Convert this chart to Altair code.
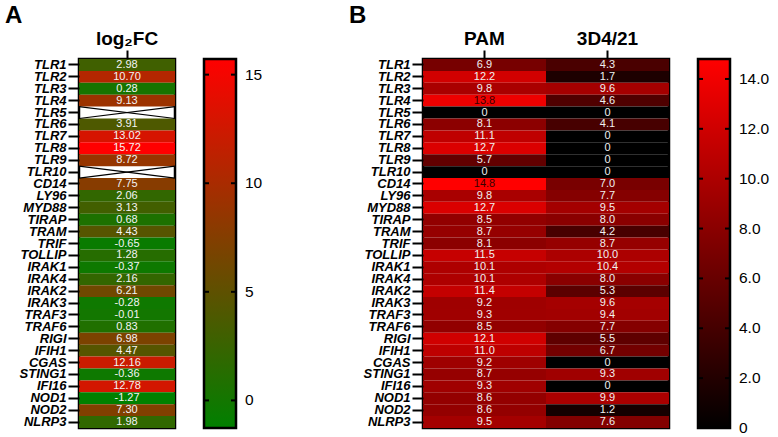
import altair as alt
import pandas as pd

# Genes, top to bottom
genes = ["TLR1", "TLR2", "TLR3", "TLR4", "TLR5", "TLR6", "TLR7", "TLR8", "TLR9", "TLR10",
         "CD14", "LY96", "MYD88", "TIRAP", "TRAM", "TRIF", "TOLLIP", "IRAK1", "IRAK4", "IRAK2",
         "IRAK3", "TRAF3", "TRAF6", "RIGI", "IFIH1", "CGAS", "STING1", "IFI16", "NOD1", "NOD2",
         "NLRP3"]

# Panel A: log2 fold change (None = not detected)
log2fc = [2.98, 10.70, 0.28, 9.13, None, 3.91, 13.02, 15.72, 8.72, None,
          7.75, 2.06, 3.13, 0.68, 4.43, -0.65, 1.28, -0.37, 2.16, 6.21,
          -0.28, -0.01, 0.83, 6.98, 4.47, 12.16, -0.36, 12.78, -1.27, 7.30,
          1.98]

# Panel B: expression per cell type
cell_types = ["PAM", "3D4/21"]
pam = [6.9, 12.2, 9.8, 13.8, 0, 8.1, 11.1, 12.7, 5.7, 0,
       14.8, 9.8, 12.7, 8.5, 8.7, 8.1, 11.5, 10.1, 10.1, 11.4,
       9.2, 9.3, 8.5, 12.1, 11.0, 9.2, 8.7, 9.3, 8.6, 8.6,
       9.5]
line_3d4 = [4.3, 1.7, 9.6, 4.6, 0, 4.1, 0, 0, 0, 0,
            7.0, 7.7, 9.5, 8.0, 4.2, 8.7, 10.0, 10.4, 8.0, 5.3,
            9.6, 9.4, 7.7, 5.5, 6.7, 0, 9.3, 0, 9.9, 1.2,
            7.6]

# Colour bars: domains, end colours, tick values and their labels
a_domain = [-1.27, 15.72]
a_colors = ["#008000", "#ff0000"]
a_ticks = [0, 5, 10, 15]
a_tick_labels = ["0", "5", "10", "15"]
b_domain = [0, 14.8]
b_colors = ["#000000", "#ff0000"]
b_ticks = [0, 2, 4, 6, 8, 10, 12, 14]
b_tick_labels = ["0", "2.0", "4.0", "6.0", "8.0", "10.0", "12.0", "14.0"]

FONT = "Liberation Sans"
ROW_H = 369
BAR_GAP = 29
BAR_W = 32
A_COL = "log₂FC"

# ---- tables -------------------------------------------------------------
a_all = pd.DataFrame({"gene": genes, "value": log2fc, "col": A_COL})
a_ok = a_all.dropna(subset=["value"]).copy()
a_ok["label"] = a_ok["value"].map(lambda v: f"{v:.2f}")
a_na = a_all[a_all["value"].isna()][["gene", "col"]].copy()

b_df = pd.concat([
    pd.DataFrame({"gene": genes, "value": pam, "col": cell_types[0]}),
    pd.DataFrame({"gene": genes, "value": line_3d4, "col": cell_types[1]}),
], ignore_index=True)
b_df["label"] = b_df["value"].map(lambda v: "0" if v == 0 else f"{v:.1f}")


def y_enc(**kw):
    return alt.Y("gene:N", scale=alt.Scale(domain=genes, paddingInner=0, paddingOuter=0),
                 axis=alt.Axis(title=None, domain=False, tickSize=11, tickWidth=2,
                               tickColor="black", labelPadding=2, labelFontSize=13,
                               labelFontWeight="bold", labelFontStyle="italic",
                               labelColor="black", labelOverlap=False, labelFont=FONT),
                 **kw)


def x_enc(domain, **kw):
    return alt.X("col:N", scale=alt.Scale(domain=domain, paddingInner=0, paddingOuter=0),
                 axis=alt.Axis(title=None, orient="top", domain=False, labelAngle=0,
                               tickSize=9, tickWidth=2, tickColor="black",
                               labelPadding=2, labelFontSize=19, labelFontWeight="bold",
                               labelColor="black", labelFont=FONT),
                 **kw)


def colour_bar(left, domain, colors, ticks, tick_labels):
    """Vertical gradient bar (drawn to the right of the heatmap) with inward
    tick marks and value labels, positioned by its own linear scale."""
    yscale = alt.Scale(domain=domain, nice=False, zero=False)
    ends = pd.DataFrame({"lo": [domain[0]], "hi": [domain[1]]})
    tick_df = pd.DataFrame({"v": ticks, "t": tick_labels})
    grad = alt.Gradient(gradient="linear",
                        stops=[alt.GradientStop(color=colors[1], offset=0),
                               alt.GradientStop(color=colors[0], offset=1)],
                        x1=0, y1=0, x2=0, y2=1)
    right = left + BAR_W
    bar = alt.Chart(ends).mark_rect(fill=grad, stroke="black", strokeWidth=2.5).encode(
        x=alt.value(left), x2=alt.value(right),
        y=alt.Y("hi:Q", scale=yscale, axis=None), y2="lo:Q")
    tick_l = alt.Chart(tick_df).mark_rule(color="black", strokeWidth=2).encode(
        x=alt.value(left), x2=alt.value(left + 5), y=alt.Y("v:Q", scale=yscale, axis=None))
    tick_r = alt.Chart(tick_df).mark_rule(color="black", strokeWidth=2).encode(
        x=alt.value(right - 5), x2=alt.value(right), y=alt.Y("v:Q", scale=yscale, axis=None))
    labels = alt.Chart(tick_df).mark_text(
        align="left", baseline="middle", fontSize=15.5, font=FONT, color="black"
    ).encode(x=alt.value(right + 9), y=alt.Y("v:Q", scale=yscale, axis=None), text="t:N")
    return alt.layer(bar, tick_l, tick_r, labels)


def panel_title(letter):
    return alt.Title(letter, anchor="start", frame="group", dx=-74, offset=1,
                     fontSize=24, fontWeight="bold", font=FONT, color="black")


# ---- panel A ---------------------------------------------------------------
A_W = 96
a_cells = alt.Chart(a_ok).mark_rect().encode(
    x=x_enc([A_COL]),
    y=y_enc(),
    color=alt.Color("value:Q", legend=None,
                    scale=alt.Scale(domain=a_domain, range=a_colors, interpolate="rgb")),
)
a_text = alt.Chart(a_ok).mark_text(fontSize=11, font=FONT, color="#f4f4f4").encode(
    x=x_enc([A_COL]), y=y_enc(), text="label:N")
a_cross1 = alt.Chart(a_na).mark_rule(color="black", strokeWidth=1.2).encode(
    x=x_enc([A_COL], bandPosition=0), x2=alt.X2("col", bandPosition=1),
    y=y_enc(bandPosition=0), y2=alt.Y2("gene", bandPosition=1))
a_cross2 = alt.Chart(a_na).mark_rule(color="black", strokeWidth=1.2).encode(
    x=x_enc([A_COL], bandPosition=0), x2=alt.X2("col", bandPosition=1),
    y=y_enc(bandPosition=1), y2=alt.Y2("gene", bandPosition=0))

heat_a = alt.layer(a_cells, a_text, a_cross1, a_cross2)
bar_a = colour_bar(A_W + BAR_GAP, a_domain, a_colors, a_ticks, a_tick_labels)
panel_a = alt.layer(heat_a, bar_a).resolve_scale(y="independent").properties(
    width=A_W, height=ROW_H, title=panel_title("A"))

# ---- panel B ---------------------------------------------------------------
B_W = 246
b_cells = alt.Chart(b_df).mark_rect().encode(
    x=x_enc(cell_types),
    y=y_enc(),
    color=alt.Color("value:Q", legend=None,
                    scale=alt.Scale(domain=b_domain, range=b_colors, interpolate="rgb")),
)
b_text = alt.Chart(b_df).mark_text(fontSize=11, font=FONT).encode(
    x=x_enc(cell_types), y=y_enc(), text="label:N",
    color=alt.condition(alt.datum.value >= 13.5, alt.value("#3a0000"), alt.value("#f0f0f0")),
)

heat_b = alt.layer(b_cells, b_text)
bar_b = colour_bar(B_W + BAR_GAP, b_domain, b_colors, b_ticks, b_tick_labels)
panel_b = alt.layer(heat_b, bar_b).resolve_scale(y="independent").properties(
    width=B_W, height=ROW_H, title=panel_title("B"))

chart = alt.hconcat(panel_a, panel_b, spacing=248, bounds="flush").resolve_scale(
    color="independent", x="independent", y="independent"
).configure_view(
    stroke="black", strokeWidth=2.5
).properties(
    padding={"left": 3, "top": 2, "right": 0, "bottom": 0},
    background="white",
)

chart.save("out.html", embed_options={"renderer": "svg", "actions": False})
